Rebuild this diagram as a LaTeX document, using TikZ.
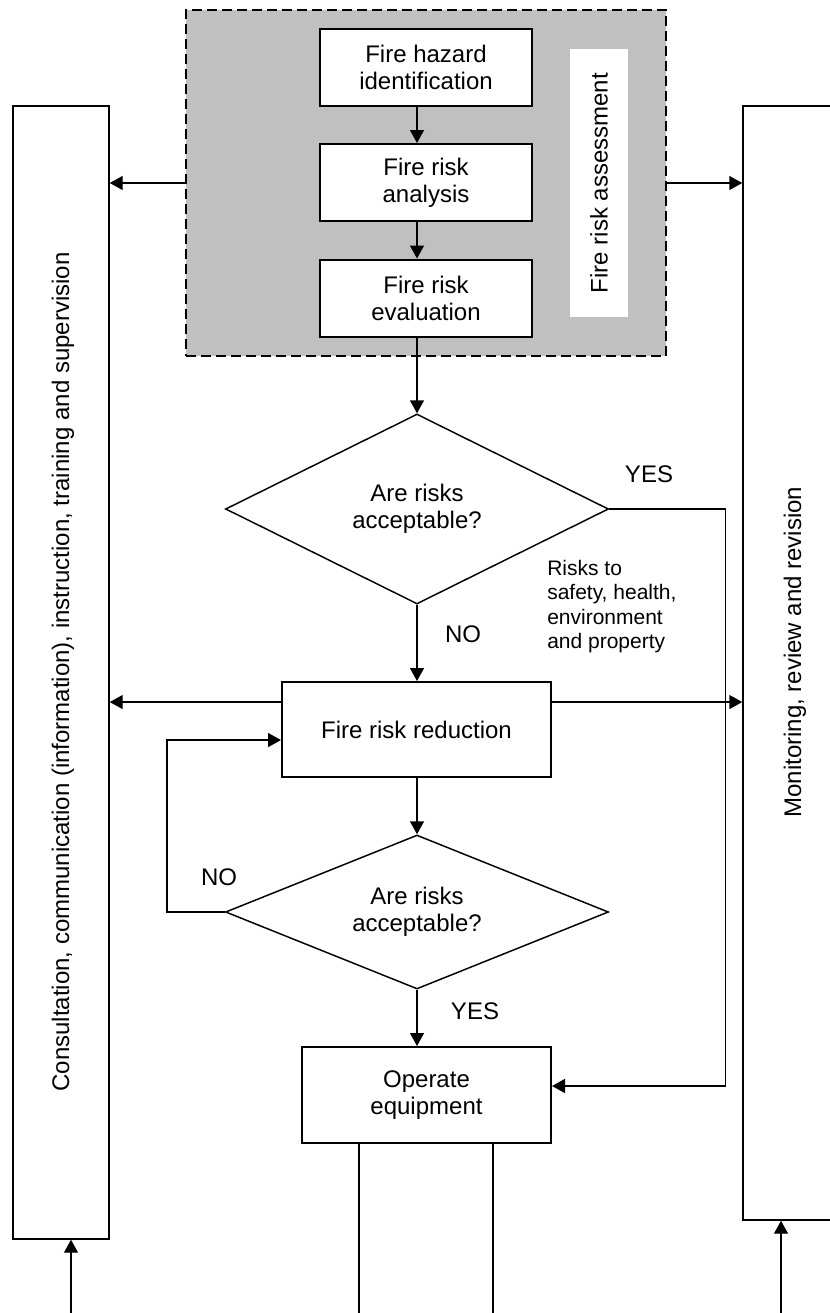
\documentclass[tikz,border=0pt]{standalone}
\usepackage{fontspec}
\setmainfont{Liberation Sans}
\usetikzlibrary{shapes.geometric,arrows.meta,calc}
\definecolor{frgray}{RGB}{192,192,192}
\begin{document}
\begin{tikzpicture}[x=0.75pt,y=-0.75pt,
  every node/.style={font=\fontsize{18}{20.25}\selectfont, inner sep=0pt},
  procbox/.style={draw, line width=1.5pt, fill=white, align=center},
  sidebox/.style={draw, line width=1.1pt, fill=white},
  decis/.style={draw, diamond, aspect=2, line width=1.1pt, fill=white, align=center,
    minimum width=287.25pt},
  conn/.style={line width=1.1pt},
  arr/.style={conn, -{Triangle[length=9.75pt,width=10.5pt]}},
  lbl/.style={font=\fontsize{18}{20.25}\selectfont},
]
\useasboundingbox (0,0) rectangle (830,1313);
\clip (0,0) rectangle (830,1313);

% assessment frame
\node[draw, dash pattern=on 7.5pt off 3.75pt, line width=1.1pt, fill=frgray,
  minimum width=360pt, minimum height=259.5pt] (frame) at (426,183) {};

% side boxes
\node[sidebox, minimum width=72pt, minimum height=849.75pt] (L) at (61,672.5) {};
\node[sidebox, minimum width=111pt, minimum height=835.5pt] (R) at (817,663) {};
\node[rotate=90] (Lt) at (63,672) {Consultation, communication (information), instruction, training and supervision};
\node[rotate=90] (Rt) at (795,652) {Monitoring, review and revision};

% process boxes in frame
\node[procbox, minimum width=159pt, minimum height=57.75pt] (b1) at (426,67.5) {Fire hazard\\identification};
\node[procbox, minimum width=159pt, minimum height=57.75pt] (b2) at (426,182.5) {Fire risk\\analysis};
\node[procbox, minimum width=159pt, minimum height=57.75pt] (b3) at (426,298) {Fire risk\\evaluation};
\node[fill=white, rotate=90, minimum width=201pt, minimum height=43.5pt] (fra) at (599,183) {Fire risk assessment};

% decisions and lower boxes
\node[decis, minimum height=142.5pt] (d1) at (417,509) {Are risks\\acceptable?};
\node[procbox, minimum width=201.75pt, minimum height=71.25pt] (red) at (416.5,729.5) {Fire risk reduction};
\node[decis, minimum height=115.5pt] (d2) at (417,912) {Are risks\\acceptable?};
\node[procbox, minimum width=186.75pt, minimum height=72pt] (op) at (426.5,1095) {Operate\\equipment};

% labels
\node[lbl] (yes1) at (649,474) {YES};
\node[lbl] (no1) at (463,634) {NO};
\node[lbl] (no2) at (219,877) {NO};
\node[lbl] (yes2) at (475,1011) {YES};
\node[font=\fontsize{15.75}{18.4}\selectfont, align=left, anchor=north west] (risks) at (547,559.7)
  {Risks to\\safety, health,\\environment\\and property};

% connectors
\draw[arr] ([xshift=-6.75pt]b1.south) -- ([xshift=-6.75pt]b2.north);
\draw[arr] ([xshift=-6.75pt]b2.south) -- ([xshift=-6.75pt]b3.north);
\draw[arr] ([xshift=-6.75pt]b3.south) -- (d1.north);
\draw[arr] (frame.west) -- (frame.west -| L.east);
\draw[arr] (frame.east) -- (frame.east -| R.west);
\draw[arr] (d1.south) -- (d1.south |- red.north);
\draw[arr] (d1.east) -- ++(116,0) |- ([yshift=6.75pt]op.east);
\draw[arr] ([yshift=20.6pt]red.west) -- ([yshift=20.6pt]red.west -| L.east);
\draw[arr] ([yshift=20.6pt]red.east) -- ([yshift=20.6pt]red.east -| R.west);
\draw[arr] (red.south -| d2.north) -- (d2.north);
\draw[arr] (d2.west) -- ++(-58,0) |- ([yshift=-7.9pt]red.west);
\draw[arr] (d2.south) -- (d2.south |- op.north);
\draw[conn] ([xshift=-50.6pt]op.south) -- ++(0,200);
\draw[conn] ([xshift=49.9pt]op.south) -- ++(0,200);
\coordinate (lb) at (71,1330);
\coordinate (rb) at (781,1330);
\draw[arr] (lb) -- (lb |- L.south);
\draw[arr] (rb) -- (rb |- R.south);
\end{tikzpicture}
\end{document}
